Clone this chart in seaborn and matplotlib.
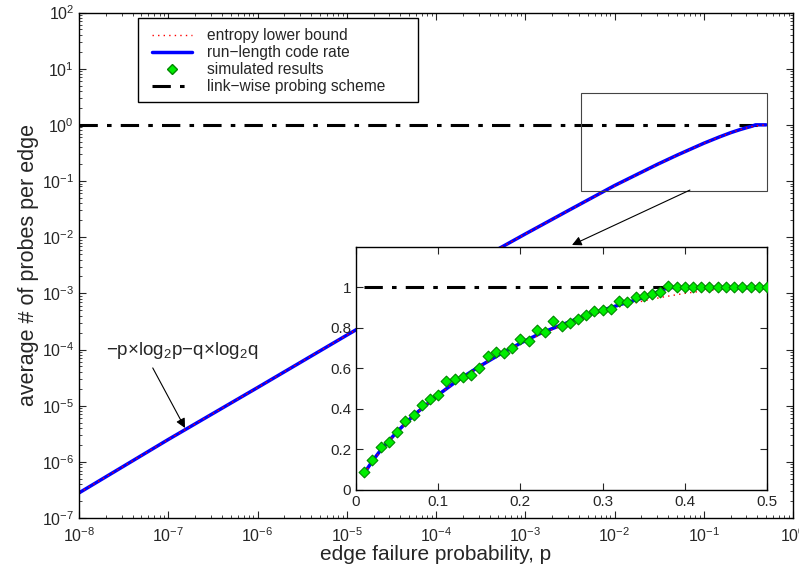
import numpy as np
import pandas as pd
import matplotlib
matplotlib.use('Agg')
import matplotlib.pyplot as plt
from matplotlib.lines import Line2D
from matplotlib.patches import Rectangle, ConnectionPatch
import matplotlib.ticker as mticker
import seaborn as sns

# ---- data ----
# main log-log panel
p_main = [1e-8, 1e-7, 1e-6, 1e-5, 1e-4, 1e-3, 3e-3, 1e-2, 3e-2, 5e-2, 0.1, 0.15, 0.2, 0.25, 0.3, 0.35, 0.38, 0.5]
rl_main = [2.8e-7, 2.5e-6, 2.1e-5, 1.8e-4, 1.5e-3, 1.14e-2, 2.95e-2, 8.3e-2, 0.197, 0.288, 0.47, 0.61, 0.725, 0.815, 0.888, 0.95, 1.0, 1.0]
ent_main = [2.8e-7, 2.5e-6, 2.1e-5, 1.8e-4, 1.5e-3, 1.14e-2, 2.94e-2, 8.1e-2, 0.194, 0.286, 0.469, 0.61, 0.722, 0.811, 0.881, 0.934, 0.958, 1.0]
link_p = [1e-8, 0.5]
link_y = [1.0, 1.0]

# inset (linear) panel
p_in = [0.01, 0.02, 0.03, 0.05, 0.07, 0.1, 0.125, 0.15, 0.175, 0.2, 0.225, 0.25, 0.275, 0.3, 0.325, 0.35, 0.365, 0.38, 0.5]
rl_in = [0.083, 0.143, 0.197, 0.288, 0.368, 0.47, 0.545, 0.61, 0.67, 0.725, 0.775, 0.815, 0.855, 0.888, 0.92, 0.95, 0.975, 1.0, 1.0]
p_ent = [0.01, 0.02, 0.03, 0.05, 0.07, 0.1, 0.125, 0.15, 0.175, 0.2, 0.225, 0.25, 0.275, 0.3, 0.325, 0.35, 0.375, 0.4, 0.425, 0.45, 0.475, 0.5]
ent_in = [0.081, 0.141, 0.194, 0.286, 0.366, 0.469, 0.544, 0.61, 0.669, 0.722, 0.769, 0.811, 0.849, 0.881, 0.91, 0.934, 0.954, 0.971, 0.984, 0.993, 0.998, 1.0]
p_sim = [0.01, 0.02, 0.03, 0.04, 0.05, 0.06, 0.07, 0.08, 0.09, 0.10, 0.11, 0.12, 0.13, 0.14, 0.15, 0.16, 0.17,
         0.18, 0.19, 0.20, 0.21, 0.22, 0.23, 0.24, 0.25, 0.26, 0.27, 0.28, 0.29, 0.30, 0.31, 0.32, 0.33, 0.34,
         0.35, 0.36, 0.37, 0.38, 0.39, 0.40, 0.41, 0.42, 0.43, 0.44, 0.45, 0.46, 0.47, 0.48, 0.49, 0.50]
sim = [0.091, 0.149, 0.210, 0.235, 0.284, 0.342, 0.369, 0.418, 0.451, 0.469, 0.537, 0.547, 0.557, 0.569, 0.600,
       0.660, 0.679, 0.674, 0.699, 0.747, 0.736, 0.790, 0.779, 0.836, 0.808, 0.823, 0.846, 0.863, 0.883, 0.888,
       0.896, 0.932, 0.927, 0.952, 0.960, 0.969, 0.979, 1.007, 1.0, 1.0, 1.0, 1.0, 1.0, 1.0, 1.0, 1.0, 1.0, 1.0, 1.0, 1.0]

sns.set_style('ticks')
plt.rcParams['font.family'] = ['Liberation Sans', 'DejaVu Sans']
plt.rcParams['mathtext.fontset'] = 'custom'
plt.rcParams['mathtext.rm'] = 'Liberation Sans'
plt.rcParams['mathtext.it'] = 'Liberation Sans'
plt.rcParams['xtick.direction'] = 'in'
plt.rcParams['ytick.direction'] = 'in'

dashdot = (0, (6, 3, 1.5, 3))
dotted = (0, (1, 3))

fig = plt.figure(figsize=(7.99, 5.72), dpi=100)
ax = fig.add_axes([0.0989, 0.0944, 0.8936, 0.8837])

sns.lineplot(x=link_p, y=link_y, ax=ax, color='black', lw=2.2, linestyle=dashdot, estimator=None, sort=False)
sns.lineplot(x=p_main, y=rl_main, ax=ax, color='blue', lw=2.5, estimator=None, sort=False)
sns.lineplot(x=p_main, y=ent_main, ax=ax, color='red', lw=1, linestyle=dotted, estimator=None, sort=False)
ax.set_xscale('log')
ax.set_yscale('log')
ax.set_xlim(1e-8, 1)
ax.set_ylim(1e-7, 1e2)
ax.xaxis.set_major_locator(mticker.LogLocator(base=10, numticks=20))
ax.yaxis.set_major_locator(mticker.LogLocator(base=10, numticks=20))
ax.xaxis.set_minor_locator(mticker.LogLocator(base=10, subs=np.arange(2, 10), numticks=20))
ax.yaxis.set_minor_locator(mticker.LogLocator(base=10, subs=np.arange(2, 10), numticks=20))
ax.xaxis.set_minor_formatter(mticker.NullFormatter())
ax.yaxis.set_minor_formatter(mticker.NullFormatter())
ax.tick_params(which='both', top=True, right=True, labelsize=11.5)
ax.tick_params(which='major', length=5)
ax.tick_params(which='minor', length=2.5)
ax.tick_params(axis='x', which='major', pad=6)
for s in ax.spines.values():
    s.set_linewidth(1)
    s.set_color('black')
ax.set_xlabel('edge failure probability, p', fontsize=15, labelpad=0)
ax.set_ylabel('average # of probes per edge', fontsize=15.5, labelpad=2)

# zoom box on the main curve
ax.add_patch(Rectangle((0.00422, 0.0664), 0.512 - 0.00422, 3.69 - 0.0664, fill=False, ec='#444444', lw=0.8, zorder=5))

# formula label with arrow
ax.text(2.0e-8, 9.8e-5, '\u2212p\u00d7log$_\\mathrm{2}$p\u2212q\u00d7log$_\\mathrm{2}$q', fontsize=13.5, ha='left', va='center')
ax.annotate('', xy=(1.54e-7, 4.0e-6), xytext=(6.7e-8, 4.7e-5),
            arrowprops=dict(arrowstyle='-|>', color='black', lw=0.8, mutation_scale=14, shrinkA=0, shrinkB=0))

# legend: entries without frame, then a wider box like the original
handles = [Line2D([], [], color='red', lw=1, linestyle=dotted),
           Line2D([], [], color='blue', lw=2.5),
           Line2D([], [], color='none', marker='D', markerfacecolor='#00ee00', markeredgecolor='#008800', markersize=5),
           Line2D([], [], color='black', lw=2.2, linestyle=dashdot)]
labels = ['entropy lower bound', 'run\u2212length code rate', 'simulated results', 'link\u2212wise probing scheme']
leg = ax.legend(handles, labels, loc='upper left', bbox_to_anchor=(0.102, 0.969), fontsize=11.2,
                frameon=False, borderaxespad=0, borderpad=0,
                handlelength=2.6, handletextpad=0.95, labelspacing=0.13)
ax.add_patch(Rectangle((0.0826, 0.823), 0.4748 - 0.0826, 0.9897 - 0.823, transform=ax.transAxes,
                       fill=True, fc='white', ec='black', lw=1, zorder=4))
leg.set_zorder(6)

# inset
ins = fig.add_axes([0.4456, 0.1434, 0.5144, 0.4248])
sns.lineplot(x=p_in, y=rl_in, ax=ins, color='blue', lw=2.5, estimator=None, sort=False)
sns.lineplot(x=p_ent, y=ent_in, ax=ins, color='red', lw=1, linestyle=dotted, estimator=None, sort=False)
sns.lineplot(x=[0.01, 0.5], y=[1.0, 1.0], ax=ins, color='black', lw=2.2, linestyle=dashdot, estimator=None, sort=False)
sns.scatterplot(x=p_sim, y=sim, ax=ins, marker='D', color='#00ee00', edgecolor='#008800', linewidth=0.8, s=30, zorder=5)
ins.set_xlim(0, 0.5)
ins.set_ylim(0, 1.2)
ins.set_xticks([0, 0.1, 0.2, 0.3, 0.4, 0.5])
ins.set_xticklabels(['0', '0.1', '0.2', '0.3', '0.4', '0.5'])
ins.set_yticks([0, 0.2, 0.4, 0.6, 0.8, 1.0])
ins.set_yticklabels(['0', '0.2', '0.4', '0.6', '0.8', '1'])
ins.tick_params(top=True, right=True, labelsize=11, length=5)
for s in ins.spines.values():
    s.set_linewidth(1)
    s.set_color('black')

# arrow from the zoom box down to the inset, drawn above both axes
con = ConnectionPatch(xyA=(0.070, 0.069), coordsA=ax.transData, xyB=(0.00334, 0.00726), coordsB=ax.transData,
                      arrowstyle='-|>', color='black', lw=0.8, mutation_scale=14, shrinkA=0, shrinkB=0)
fig.add_artist(con)

fig.savefig('out.png', dpi=100)
